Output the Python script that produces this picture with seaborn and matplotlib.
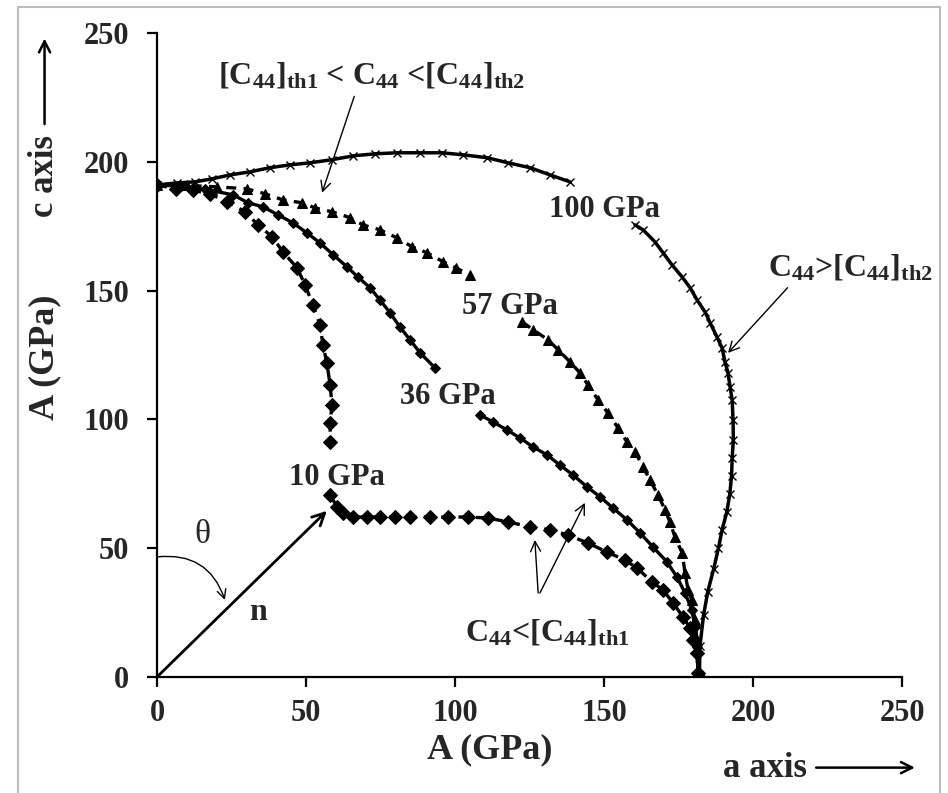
import matplotlib
matplotlib.use("Agg")
import matplotlib.pyplot as plt
from matplotlib.patches import Rectangle, FancyArrowPatch
import seaborn as sns
import pandas as pd

# ---- slowness-like curves A(θ) for four C44 values (GPa) ----
p10_upper_x = [0, 6.4, 12, 17.8, 23.5, 29.5, 33.9, 38.6, 42.3, 47.0, 49.7, 52.3, 54.7, 55.7, 57.0, 58.1, 58.7, 58.1, 58.1]
p10_upper_y = [191, 189.5, 189, 187.5, 184.5, 180.6, 175.5, 170.9, 165.0, 158.8, 152.2, 144.5, 136.7, 128.9, 121.9, 113.4, 105.6, 98.6, 91.3]
p10_lower_x = [58.1, 60.4, 62.4, 65.8, 70.5, 74.8, 79.9, 84.9, 91.6, 97.7, 104.4, 111.1, 117.8, 125.2, 131.9, 137.9,
               144.6, 151.0, 157.0, 161.1, 166.1, 169.8, 173.2, 176.5, 178.9, 179.9, 181.2, 181.5, 182]
p10_lower_y = [70.7, 66.0, 63.7, 62.1, 62.1, 62.1, 62.1, 62.1, 62.1, 62.1, 62.1, 61.7, 60.2, 58.3, 57.1, 55.1,
               52.0, 48.5, 45.4, 42.3, 36.9, 33.8, 28.7, 23.3, 19.0, 14.4, 9.3, 1.6, 0]

p36_upper_x = [0, 8, 16, 25.5, 30.5, 35.6, 40.6, 45.6, 50.3, 54.7, 59.1, 63.8, 67.4, 71.5, 74.8, 78.2, 81.5, 84.9, 88.3, 93.3]
p36_upper_y = [191, 190.5, 189.3, 187.2, 184.1, 182.5, 179.4, 176.3, 172.4, 168.5, 163.9, 159.2, 155.3, 151.1, 146.4,
               141.4, 135.9, 130.9, 125.8, 120.0]
p36_lower_x = [108.4, 112.8, 117.4, 121.8, 126.2, 130.9, 135.2, 139.6, 144.3, 148.7, 153.0, 157.7, 162.1, 166.4,
               171.1, 174.5, 177.2, 179.5, 180.5, 181.2, 181.5, 182]
p36_lower_y = [101.7, 99.0, 95.9, 92.8, 89.3, 86.2, 82.3, 78.4, 73.8, 69.9, 65.6, 61.0, 55.9, 50.5,
               44.7, 38.8, 32.6, 26.0, 19.4, 11.7, 1.6, 0]

p57_upper_x = [0, 10, 20, 30.2, 36.2, 42.3, 48.7, 53.0, 58.7, 64.8, 69.1, 74.8, 80.5, 85.6, 90.6, 96.0, 100.5, 105.0]
p57_upper_y = [191, 190.8, 190.3, 189.5, 187.6, 185.2, 184.1, 182.1, 180.6, 178.3, 175.5, 173.6, 170.5, 167.0, 164.7,
               161.2, 158.7, 156.1]
p57_lower_x = [122.5, 126.2, 131.2, 134.6, 138.6, 141.9, 144.6, 148.0, 151.3, 154.7, 157.7, 160.4, 163.1, 165.4,
               168.1, 170.5, 172.1, 173.8, 176.2, 177.2, 178.2, 179.5, 180.5, 181.2, 181.5, 182]
p57_lower_y = [137.9, 134.8, 130.9, 127.0, 122.3, 118.1, 113.4, 107.6, 102.5, 96.7, 91.3, 87.4, 81.6, 76.5,
               70.7, 64.9, 60.2, 54.4, 48.2, 40.4, 33.8, 29.9, 22.1, 14.4, 1.6, 0]

p100_upper_x = [0, 6.7, 12.8, 18.5, 24.5, 31.2, 37.9, 44.6, 51.3, 58.7, 65.8, 73.2, 80.5, 88.3, 95.6, 102.7,
                110.7, 117.8, 125.2, 131.9, 138.6]
p100_upper_y = [191, 191.8, 192.2, 193.4, 194.9, 196.1, 197.7, 198.8, 199.6, 200.8, 202.3, 203.1, 203.5, 203.5,
                203.5, 202.7, 201.6, 199.6, 197.7, 194.9, 192.2]
p100_lower_x = [160.4, 163.1, 167.1, 169.8, 172.8, 176.2, 178.9, 181.2, 183.9, 185.6, 187.9, 189.6, 190.6, 191.6,
                192.3, 193.0, 193.3, 193.4, 193.0, 192.8, 192.2, 191.2, 189.6, 188.4, 186.8, 184.8, 183.4, 182.2, 182]
p100_lower_y = [175.5, 173.6, 168.9, 164.7, 160.0, 155.3, 151.1, 146.4, 141.7, 137.5, 132.0, 127.8, 122.3, 118.1,
                112.6, 107.6, 99.8, 92, 85, 78, 71, 64, 57, 50, 42, 33, 24, 12, 0]

ticks = [0, 50, 100, 150, 200, 250]
curve_labels = ["10 GPa", "36 GPa", "57 GPa", "100 GPa"]

# ---- style ----
sns.set_theme(style="ticks")
plt.rcParams["font.family"] = ["Liberation Serif", "DejaVu Serif"]
plt.rcParams["font.weight"] = "bold"
plt.rcParams["mathtext.fontset"] = "custom"
plt.rcParams["mathtext.rm"] = "Liberation Serif:bold"
plt.rcParams["mathtext.it"] = "Liberation Serif:bold"
plt.rcParams["mathtext.bf"] = "Liberation Serif:bold"
plt.rcParams["mathtext.default"] = "rm"

fig = plt.figure(figsize=(9.48, 7.93), dpi=100)
ax = fig.add_axes([0.1656, 0.1463, 0.7859, 0.8121])

# outer gray frame
fig.patches.append(Rectangle((0.019, -0.05), 0.9726, 1.041, transform=fig.transFigure,
                             fill=False, edgecolor="#bdbdbd", lw=1.5, zorder=0))

styles = {
    "10 GPa": dict(marker="D", markersize=7, linestyle=(0, (3, 2.2)), linewidth=2.4),
    "36 GPa": dict(marker="D", markersize=5, linestyle="-", linewidth=2.4),
    "57 GPa": dict(marker="^", markersize=7.5, linestyle=(0, (3, 2.2)), linewidth=2.4),
    "100 GPa": dict(marker="x", markersize=6, markeredgewidth=1.0, linestyle="-", linewidth=2.5),
}
segments = [
    ("10 GPa", p10_upper_x, p10_upper_y), ("10 GPa", p10_lower_x, p10_lower_y),
    ("36 GPa", p36_upper_x, p36_upper_y), ("36 GPa", p36_lower_x, p36_lower_y),
    ("57 GPa", p57_upper_x, p57_upper_y), ("57 GPa", p57_lower_x, p57_lower_y),
    ("100 GPa", p100_upper_x, p100_upper_y), ("100 GPa", p100_lower_x, p100_lower_y),
]
for name, xs, ys in segments:
    seg = pd.DataFrame({"A_a": xs, "A_c": ys})
    sns.lineplot(data=seg, x="A_a", y="A_c", sort=False, estimator=None, color="black",
                 markeredgecolor="black", ax=ax, **styles[name])

ax.set_xlim(0, 250)
ax.set_ylim(0, 250)
ax.set_xticks(ticks)
ax.set_yticks(ticks)
ax.set_xticklabels([str(t) for t in ticks])
ax.set_yticklabels([str(t) for t in ticks])
ax.set_xlabel("")
ax.set_ylabel("")
for s in ["top", "right"]:
    ax.spines[s].set_visible(False)
for s in ["left", "bottom"]:
    ax.spines[s].set_color("black")
    ax.spines[s].set_linewidth(1.6)
ax.tick_params(direction="out", length=7, width=1.6, color="black", labelsize=22)
ax.tick_params(axis="y", pad=13)
ax.tick_params(axis="x", pad=9)
for lab in ax.get_xticklabels() + ax.get_yticklabels():
    lab.set_fontweight("bold")

# curve labels
txt = dict(fontsize=22, fontweight="bold", ha="center", va="center")
ax.text(60.4, 77.3, curve_labels[0], **txt)
ax.text(97.7, 108.7, curve_labels[1], **txt)
ax.text(118.5, 143.7, curve_labels[2], **txt)
ax.text(150.3, 181.4, curve_labels[3], **txt)

thin = dict(arrowstyle="->", color="black", lw=1.0, mutation_scale=18)
ax.annotate(r"[C$_{44}$]$_{th1}$ < C$_{44}$ <[C$_{44}$]$_{th2}$", xy=(55.4, 188), xytext=(72, 233.5),
            fontsize=23, ha="center", va="center", annotation_clip=False,
            arrowprops=dict(thin, shrinkB=0, relpos=(0.45, 0.0)))
ax.annotate(r"C$_{44}$>[C$_{44}$]$_{th2}$", xy=(191.6, 125.8), xytext=(232.6, 159),
            fontsize=23, ha="center", va="center", annotation_clip=False,
            arrowprops=dict(thin, shrinkB=0, relpos=(0.15, 0.0)))
ax.text(130.9, 17.1, r"C$_{44}$<[C$_{44}$]$_{th1}$", fontsize=23, ha="center", va="center")
ax.annotate("", xy=(126.8, 53.2), xytext=(127.9, 32.6), arrowprops=dict(thin, shrinkA=0, shrinkB=0))
ax.annotate("", xy=(143.6, 67.6), xytext=(128.5, 32.6), arrowprops=dict(thin, shrinkA=0, shrinkB=0))

# propagation direction n and angle θ
ax.annotate("", xy=(57.0, 64.5), xytext=(0, 0),
            arrowprops=dict(arrowstyle="->", color="black", lw=2.0, mutation_scale=22, shrinkA=0, shrinkB=0))
ax.text(33.9, 24.9, "n", fontsize=23, fontweight="bold", ha="center", va="center")
ax.text(15.1, 55.3, "θ", fontsize=24, fontweight="normal", ha="center", va="center")
ax.annotate("", xy=(22.8, 29.9), xytext=(0, 46.6), annotation_clip=False,
            arrowprops=dict(arrowstyle="->", color="black", lw=1.0, mutation_scale=16,
                            shrinkA=0, shrinkB=0, connectionstyle="arc3,rad=-0.4"))

# axis titles and direction arrows
fig.text(0.047, 0.55, "A (GPa)", rotation=90, fontsize=26, fontweight="bold", ha="center", va="center")
fig.text(0.047, 0.778, "c axis", rotation=90, fontsize=25, fontweight="bold", ha="center", va="center")
fig.patches.append(FancyArrowPatch((0.047, 0.84), (0.047, 0.955), transform=fig.transFigure,
                                   arrowstyle="->", mutation_scale=20, lw=1.8, color="black"))
fig.text(0.517, 0.054, "A (GPa)", fontsize=26, fontweight="bold", ha="center", va="center")
fig.text(0.807, 0.031, "a axis", fontsize=25, fontweight="bold", ha="center", va="center")
fig.patches.append(FancyArrowPatch((0.858, 0.032), (0.968, 0.032), transform=fig.transFigure,
                                   arrowstyle="->", mutation_scale=20, lw=1.8, color="black"))

fig.savefig("out.png", dpi=100, facecolor="white")
